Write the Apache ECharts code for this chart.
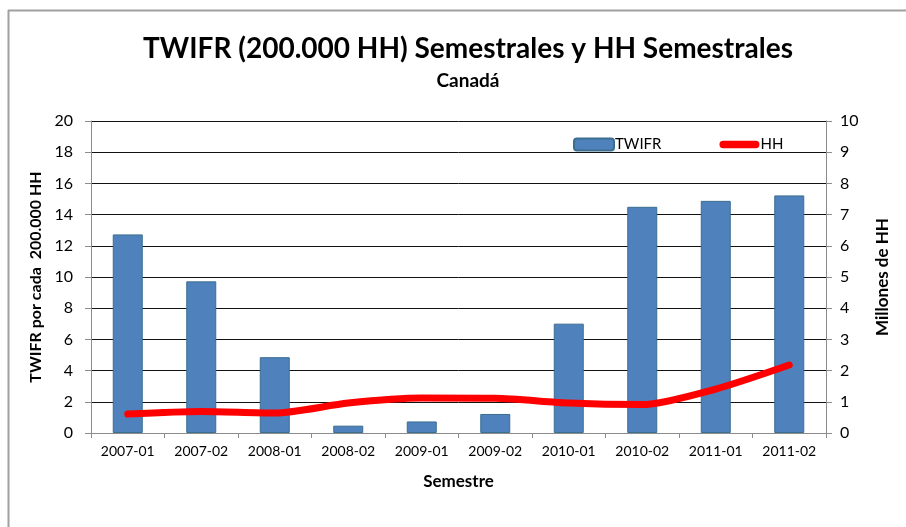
<!DOCTYPE html>
<html>
<head>
<meta charset="utf-8">
<script src="https://cdn.jsdelivr.net/npm/echarts@6/dist/echarts.min.js"></script>
<style>
  html, body { margin: 0; padding: 0; background: #fff; }
  #chart { width: 906px; height: 527px; }
</style>
</head>
<body>
<div id="chart"></div>
<script>
// datos
const semestres = ["2007-01", "2007-02", "2008-01", "2008-02", "2009-01", "2009-02", "2010-01", "2010-02", "2011-01", "2011-02"]
const twifr = [12.73, 9.72, 4.86, 0.47, 0.74, 1.22, 7.01, 14.5, 14.88, 15.23]
const hh = [0.61, 0.69, 0.64, 0.96, 1.12, 1.11, 0.96, 0.91, 1.41, 2.18]

const fuente = "Lato"
const myChart = echarts.init(document.getElementById("chart"), null, { renderer: "canvas" })

const option = {
  backgroundColor: "#fff",
  textStyle: { fontFamily: fuente },
  animation: false,
  title: [
    {
      text: "TWIFR (200.000 HH) Semestrales y HH Semestrales",
      left: 463,
      top: 30,
      textAlign: "center",
      textStyle: { fontFamily: fuente, fontSize: 28, fontWeight: "bold", color: "#000" }
    },
    {
      text: "Canadá",
      left: 463,
      top: 66,
      textAlign: "center",
      textStyle: { fontFamily: fuente, fontSize: 19, fontWeight: "bold", color: "#000" }
    }
  ],
  // marco gris del grafico
  graphic: [
    { type: "line", shape: { x1: 8.5, y1: 10, x2: 8.5, y2: 527 }, style: { stroke: "#a0a0a0", lineWidth: 2 } },
    { type: "line", shape: { x1: 8, y1: 10.5, x2: 906, y2: 10.5 }, style: { stroke: "#a0a0a0", lineWidth: 2 } }
  ],
  legend: {
    left: 568,
    top: 132,
    itemWidth: 40,
    itemHeight: 12,
    itemGap: 58,
    textStyle: { fontFamily: fuente, fontSize: 15, color: "#000", padding: [0, 0, 0, -4] },
    data: [
      { name: "TWIFR" },
      {
        name: "HH",
        icon: "path://M4,0 H40 A4,4 0 0 1 40,8 H4 A4,4 0 0 1 4,0 Z",
        itemStyle: { color: "#ff0000", borderWidth: 0 },
        lineStyle: { width: 0 }
      }
    ]
  },
  grid: { left: 91, right: 80, top: 121, bottom: 94, containLabel: false },
  xAxis: {
    type: "category",
    data: semestres,
    name: "Semestre",
    nameLocation: "middle",
    nameGap: 40,
    nameTextStyle: { fontFamily: fuente, fontSize: 17, fontWeight: "bold", color: "#000" },
    axisLine: { lineStyle: { color: "#8c8c8c", width: 1 } },
    axisTick: { show: true, length: 5, lineStyle: { color: "#8c8c8c" } },
    axisLabel: { fontFamily: fuente, fontSize: 14, color: "#000", margin: 11 }
  },
  yAxis: [
    {
      type: "value",
      min: 0,
      max: 20,
      interval: 2,
      name: "TWIFR por cada  200.000 HH",
      nameLocation: "middle",
      nameGap: 45,
      nameTextStyle: { fontFamily: fuente, fontSize: 16, fontWeight: "bold", color: "#000" },
      axisLine: { show: true, lineStyle: { color: "#8c8c8c" } },
      axisTick: { show: true, length: 6, lineStyle: { color: "#8c8c8c" } },
      axisLabel: { fontFamily: fuente, fontSize: 16, color: "#000", margin: 18 },
      splitLine: { show: true, lineStyle: { color: "#111", width: 1 } }
    },
    {
      type: "value",
      min: 0,
      max: 10,
      interval: 1,
      position: "right",
      name: "Millones de HH",
      nameLocation: "middle",
      nameGap: 48,
      nameRotate: 90,
      nameTextStyle: { fontFamily: fuente, fontSize: 17, fontWeight: "bold", color: "#000" },
      axisLine: { show: true, lineStyle: { color: "#8c8c8c" } },
      axisTick: { show: true, length: 6, lineStyle: { color: "#8c8c8c" } },
      axisLabel: { fontFamily: fuente, fontSize: 16, color: "#000", margin: 14 },
      splitLine: { show: false }
    }
  ],
  series: [
    {
      name: "TWIFR",
      type: "bar",
      data: twifr,
      yAxisIndex: 0,
      barWidth: 30,
      itemStyle: { color: "#4f81bd", borderColor: "#3b6e8f", borderWidth: 1 }
    },
    {
      name: "HH",
      type: "line",
      data: hh,
      yAxisIndex: 1,
      smooth: 0.25,
      symbol: "none",
      lineStyle: { color: "#ff0000", width: 7, cap: "round", join: "round" },
      itemStyle: { color: "#ff0000" }
    }
  ]
}

myChart.setOption(option)
window.onresize = () => {
  myChart.resize()
}
</script>
</body>
</html>
